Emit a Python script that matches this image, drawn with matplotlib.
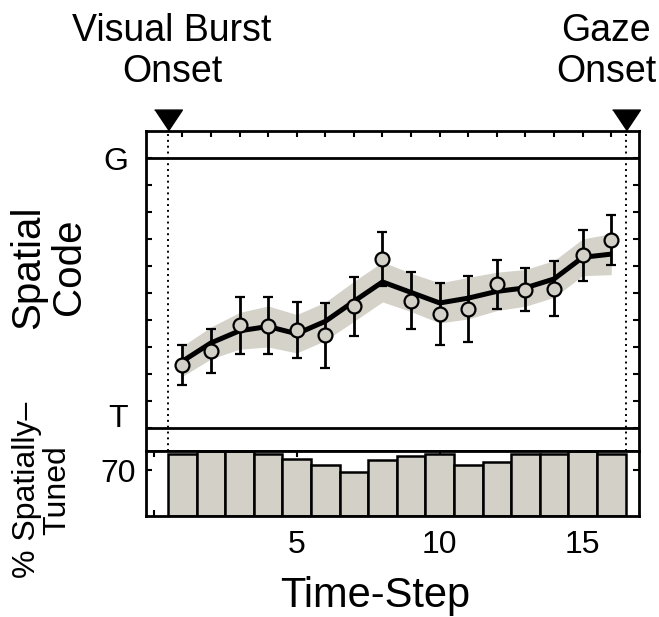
import matplotlib
matplotlib.use("Agg")
import matplotlib.pyplot as plt
import numpy as np
from matplotlib.transforms import blended_transform_factory

plt.rcParams['font.family'] = ['Liberation Sans', 'DejaVu Sans']

# ---- data ----
time_steps = [1, 2, 3, 4, 5, 6, 7, 8, 9, 10, 11, 12, 13, 14, 15, 16]
code_mean = [0.233, 0.283, 0.379, 0.378, 0.363, 0.343, 0.449, 0.625,
             0.471, 0.421, 0.440, 0.532, 0.511, 0.514, 0.638, 0.694]
code_err = [0.073, 0.082, 0.107, 0.106, 0.103, 0.120, 0.111, 0.099,
            0.106, 0.114, 0.121, 0.091, 0.080, 0.102, 0.095, 0.093]
code_smooth = [0.246, 0.314, 0.359, 0.375, 0.348, 0.394, 0.468, 0.540,
               0.501, 0.462, 0.480, 0.505, 0.518, 0.551, 0.631, 0.643]
smooth_band = [0.056, 0.059, 0.068, 0.076, 0.071, 0.071, 0.074, 0.074,
               0.071, 0.074, 0.077, 0.071, 0.068, 0.068, 0.068, 0.076]
pct_tuned = [95, 99, 99, 95, 87, 78, 68, 86, 92, 95, 78, 83, 95, 95, 99, 95]
event_steps = [0.5, 16.5]
event_labels = ["Visual Burst\nOnset", "Gaze\nOnset"]
xtick_vals = [0, 5, 10, 15]
xtick_labels = ["", "5", "10", "15"]

band_color = '#d5d2ca'
W, H = 659, 617
fig = plt.figure(figsize=(W / 100, H / 100), dpi=100)

def fx(px):
    return px / W

def fy(py):
    return 1 - py / H

left, right = 146, 639
top1, mid, bot2 = 130.7, 450.7, 516
ax1 = fig.add_axes([fx(left), fy(mid), fx(right) - fx(left), fy(top1) - fy(mid)])
ax2 = fig.add_axes([fx(left), fy(bot2), fx(right) - fx(left), fy(mid) - fy(bot2)])

xlim = (-0.27, 16.97)

# ---- upper panel ----
x = np.array(time_steps)
sm = np.array(code_smooth)
bw = np.array(smooth_band)
ax1.fill_between(x, sm - bw, sm + bw, color=band_color, lw=0, zorder=1)
ax1.plot(x, sm, color='black', lw=3.6, zorder=2, solid_capstyle='butt')
ax1.errorbar(x, code_mean, yerr=code_err, fmt='o', ms=10, mfc='#d3d0c8',
             mec='black', mew=1.6, ecolor='black', elinewidth=2.0,
             capsize=3.8, capthick=2.0, zorder=3)
ax1.axhline(1.0, color='black', lw=2, zorder=2)
ax1.axhline(0.0, color='black', lw=2, zorder=2)
for e in event_steps:
    ax1.axvline(e, color='black', lw=1.4, ls=(0, (1, 2)), zorder=1.5)

ax1.set_xlim(*xlim)
ax1.set_ylim(-0.085, 1.1)
ax1.set_yticks(np.arange(0, 1.01, 0.1))
ax1.set_xticks(time_steps)
ax1.tick_params(axis='y', direction='in', left=True, right=True,
                labelleft=False, length=4.5, width=1.5)
ax1.tick_params(axis='x', direction='in', top=True, bottom=False,
                labelbottom=False, length=4.5, width=1.5)
for s in ax1.spines.values():
    s.set_linewidth(2)

# event arrows
tri = [(-1, 0.75), (1, 0.75), (0, -0.75)]
trans = blended_transform_factory(ax1.transData, ax1.transAxes)
ax1.plot(event_steps, [1.035, 1.035], linestyle='none', marker=tri,
         ms=20, color='black', transform=trans, clip_on=False)

# ---- lower panel ----
ax2.bar(time_steps, pct_tuned, width=1.0, color='#d3d0c8',
        edgecolor='black', linewidth=1.8, zorder=2)
ax2.set_axisbelow(True)
ax2.set_xlim(*xlim)
ax2.set_ylim(0, 100)
ax2.set_yticks([70])
ax2.set_yticklabels(["70"], fontsize=23)
ax2.set_xticks(xtick_vals)
ax2.set_xticklabels(xtick_labels, fontsize=23)
ax2.tick_params(axis='y', direction='in', left=True, right=True,
                length=4.5, width=1.5, pad=7)
ax2.tick_params(axis='x', direction='in', top=True, bottom=True,
                length=4.5, width=1.5, pad=10)
for s in ax2.spines.values():
    s.set_linewidth(2)

# ---- texts ----
fig.text(fx(172), fy(82), event_labels[0], ha='center', va='baseline',
         fontsize=27, linespacing=1.17)
fig.text(fx(606), fy(82), event_labels[1], ha='center', va='baseline',
         fontsize=27, linespacing=1.17)
fig.text(fx(128), fy(161.5), "G", ha='right', va='center', fontsize=23)
fig.text(fx(128), fy(419), "T", ha='right', va='center', fontsize=23)
fig.text(fx(49), fy(267), "Spatial\nCode", rotation=90, ha='center',
         va='center', fontsize=29, linespacing=1.1)
fig.text(fx(42), fy(490), "% Spatially\u2013\nTuned", rotation=90, ha='center',
         va='center', fontsize=23, linespacing=1.0, multialignment='center')
fig.text(fx(375), fy(607), "Time-Step", ha='center', va='baseline', fontsize=30)

fig.savefig("out.png", dpi=100)
